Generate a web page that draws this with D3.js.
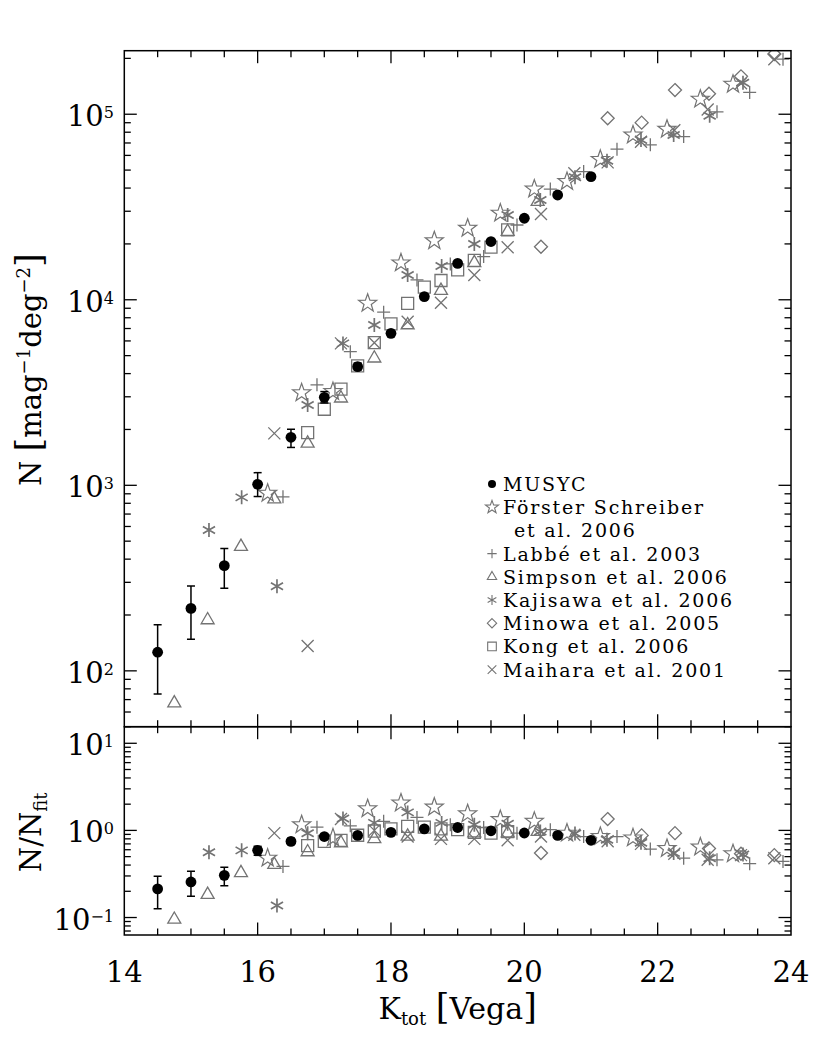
<!DOCTYPE html>
<html>
<head>
<meta charset="utf-8">
<script src="https://cdn.jsdelivr.net/npm/d3@7"></script>
<style>
body { margin: 0; background: #fff; }
svg { display: block; }
text { font-family: "DejaVu Serif", serif; fill: #000; }
</style>
</head>
<body>
<svg id="chart" width="830" height="1039"></svg>
<script>
// ---- data ----
var musycMag = [14.5, 15, 15.5, 16, 16.5, 17, 17.5, 18, 18.5, 19, 19.5, 20, 20.5, 21]
var musycN = [126, 217, 369, 1012, 1815, 2980, 4360, 6590, 10400, 15700, 20600, 27500, 36700, 46100]
var musycNLo = [75, 148, 279, 870, 1600, 2780, 4180, 6400, 10200, 15450, 20300, 27200, 36300, 45600]
var musycNHi = [177, 287, 457, 1170, 2005, 3200, 4560, 6800, 10650, 15950, 20900, 27800, 37100, 46600]
var musycRatio = [0.213, 0.256, 0.305, 0.59, 0.748, 0.85, 0.876, 0.95, 1.04, 1.08, 0.99, 0.934, 0.876, 0.77]
var musycRatioLo = [0.126, 0.175, 0.232, 0.517, 0.69, 0.8, 0.84, 0.92, 1.01, 1.05, 0.96, 0.91, 0.86, 0.75]
var musycRatioHi = [0.297, 0.339, 0.377, 0.656, 0.81, 0.9, 0.91, 0.98, 1.07, 1.11, 1.02, 0.96, 0.89, 0.79]

var fsMag = [16.15, 16.66, 17.13, 17.65, 18.15, 18.65, 19.15, 19.64, 20.15, 20.64, 21.14, 21.63, 22.14, 22.64, 23.13]
var fsN = [906, 3150, 3200, 9570, 15800, 20800, 24300, 29300, 39500, 43400, 57100, 77300, 83000, 120500, 145000]
var fsRatio = [0.48, 1.16, 0.82, 1.77, 2.06, 1.85, 1.55, 1.33, 1.27, 0.93, 0.85, 0.82, 0.62, 0.645, 0.54]

var labbeMag = [16.38, 16.89, 17.39, 17.89, 18.39, 18.89, 19.39, 19.89, 20.39, 20.89, 21.39, 21.89, 22.39, 22.89, 23.38, 23.88]
var labbeN = [867, 3480, 5250, 8570, 12800, 15600, 17100, 25300, 39500, 49100, 64800, 68400, 75800, 103000, 131000, 198000]
var labbeRatio = [0.386, 1.09, 1.13, 1.27, 1.41, 1.16, 1.08, 0.93, 1.02, 0.85, 0.85, 0.61, 0.48, 0.46, 0.415, 0.44]

var simpsonMag = [14.75, 15.25, 15.75, 16.25, 16.75, 17.25, 17.75, 18.25, 18.75, 19.25, 19.75, 20.2]
var simpsonN = [67, 188, 467, 843, 1683, 2946, 4840, 7310, 11200, 15800, 23300, 33800]
var simpsonRatio = [0.095, 0.183, 0.325, 0.404, 0.565, 0.717, 0.8, 0.853, 0.853, 0.93, 0.93, 0.97]

var kajisawaMag = [15.27, 15.76, 16.29, 16.75, 17.28, 17.75, 18.25, 18.76, 19.25, 19.75, 20.24, 20.76, 21.24, 21.75, 22.24, 22.78, 23.28]
var kajisawaN = [574, 861, 286, 2710, 5820, 7310, 13600, 15200, 20000, 28600, 34500, 45700, 56200, 72600, 77300, 98000, 148000]
var kajisawaRatio = [0.56, 0.59, 0.137, 0.93, 1.37, 1.22, 1.61, 1.22, 1.16, 1.19, 0.97, 0.92, 0.78, 0.72, 0.55, 0.48, 0.53]

var minowaMag = [20.25, 21.25, 21.76, 22.26, 22.77, 23.25, 23.75]
var minowaN = [19300, 95100, 90100, 135000, 129000, 160000, 211000]
var minowaRatio = [0.55, 1.35, 0.876, 0.93, 0.62, 0.54, 0.52]

var kongMag = [16.75, 17, 17.25, 17.5, 17.75, 18, 18.25, 18.5, 18.75, 19, 19.25, 19.5, 19.75]
var kongN = [1925, 2570, 3300, 4400, 5870, 7420, 9570, 11700, 12700, 14500, 16300, 19200, 23800]
var kongRatio = [0.67, 0.75, 0.77, 0.88, 0.98, 1.04, 1.11, 1.09, 1.04, 1.02, 0.95, 0.93, 0.97]

var maiharaMag = [16.25, 16.75, 17.25, 17.75, 18.25, 18.75, 19.25, 19.75, 20.25, 20.75, 21.25, 21.75, 22.25, 22.75, 23.25, 23.75]
var maiharaN = [1905, 136, 5820, 5870, 7620, 9630, 13600, 19200, 29000, 48100, 55000, 71000, 82000, 106000, 147000, 198000]
var maiharaRatio = [0.93, null, 1.35, 1.0, 0.85, 0.8, 0.8, 0.77, 0.85, 0.89, 0.75, 0.70, 0.54, 0.46, 0.52, 0.48]

var xTickLabels = [14, 16, 18, 20, 22, 24]
var topDecades = [2, 3, 4, 5]
var botDecades = [-1, 0, 1]

// ---- symbols (size = half width in px) ----
var symStar = { draw: function(c, r) {
  for (var i = 0; i < 10; i++) {
    var a = -Math.PI / 2 + i * Math.PI / 5, rr = i % 2 ? r * 0.4 : r
    if (i == 0) c.moveTo(rr * Math.cos(a), rr * Math.sin(a)); else c.lineTo(rr * Math.cos(a), rr * Math.sin(a))
  }
  c.closePath()
}}
var symPlus = { draw: function(c, r) { c.moveTo(-r, 0); c.lineTo(r, 0); c.moveTo(0, -r); c.lineTo(0, r) } }
var symX = { draw: function(c, r) { c.moveTo(-r, -r); c.lineTo(r, r); c.moveTo(-r, r); c.lineTo(r, -r) } }
var symAst = { draw: function(c, r) {
  var u = r * Math.sqrt(3) / 2, t = r / 2
  c.moveTo(0, -r); c.lineTo(0, r); c.moveTo(-u, -t); c.lineTo(u, t); c.moveTo(-u, t); c.lineTo(u, -t)
}}
var symTri = { draw: function(c, r) { c.moveTo(0, -r); c.lineTo(r * 0.866, r * 0.5); c.lineTo(-r * 0.866, r * 0.5); c.closePath() } }
var symDia = { draw: function(c, r) { c.moveTo(0, -r); c.lineTo(r, 0); c.lineTo(0, r); c.lineTo(-r, 0); c.closePath() } }
var symSq = { draw: function(c, r) { c.rect(-r, -r, 2 * r, 2 * r) } }
var symCircle = { draw: function(c, r) { c.moveTo(r, 0); c.arc(0, 0, r, 0, 2 * Math.PI) } }

var grey = "#737373"
var series = [
  { name: ["Förster Schreiber", "et al. 2006"], mag: fsMag, n: fsN, ratio: fsRatio, sym: symStar, size: 9.5, sw: 1.2 },
  { name: ["Labbé et al. 2003"], mag: labbeMag, n: labbeN, ratio: labbeRatio, sym: symPlus, size: 6.5, sw: 1.3 },
  { name: ["Simpson et al. 2006"], mag: simpsonMag, n: simpsonN, ratio: simpsonRatio, sym: symTri, size: 7.5, sw: 1.3 },
  { name: ["Kajisawa et al. 2006"], mag: kajisawaMag, n: kajisawaN, ratio: kajisawaRatio, sym: symAst, size: 7, sw: 1.7 },
  { name: ["Minowa et al. 2005"], mag: minowaMag, n: minowaN, ratio: minowaRatio, sym: symDia, size: 6.5, sw: 1.3 },
  { name: ["Kong et al. 2006"], mag: kongMag, n: kongN, ratio: kongRatio, sym: symSq, size: 6, sw: 1.3 },
  { name: ["Maihara et al. 2001"], mag: maiharaMag, n: maiharaN, ratio: maiharaRatio, sym: symX, size: 6, sw: 1.3 }
]

var svg = d3.select("#chart")
var x = d3.scaleLinear().domain([14, 24]).range([124.3, 791])
var yTop = d3.scaleLog().domain([50, 2.2e5]).range([726.7, 50.7])
var yBot = d3.scaleLog().domain([0.063, 15.5]).range([935, 726.7])

var defs = svg.append("defs")
defs.append("clipPath").attr("id", "clipTop").append("rect")
  .attr("x", x(14)).attr("y", yTop.range()[1]).attr("width", x(24) - x(14)).attr("height", yTop.range()[0] - yTop.range()[1])
defs.append("clipPath").attr("id", "clipBot").append("rect")
  .attr("x", x(14)).attr("y", yBot.range()[1]).attr("width", x(24) - x(14)).attr("height", yBot.range()[0] - yBot.range()[1])

var musycVals = { n: musycN, ratio: musycRatio }

function drawPanel(y, key, lo, hi, clip) {
  var g = svg.append("g").attr("clip-path", "url(#" + clip + ")")
  series.forEach(function(s) {
    var pts = s.mag.map(function(m, i) { return [m, s[key][i]] }).filter(function(d) { return d[1] != null })
    g.selectAll(null).data(pts).enter().append("path")
      .attr("transform", function(d) { return "translate(" + x(d[0]) + "," + y(d[1]) + ")" })
      .attr("d", d3.symbol().type(s.sym).size(s.size))
      .attr("fill", "none").attr("stroke", grey).attr("stroke-width", s.sw)
  })
  // MUSYC error bars + points
  var m = musycMag.map(function(v, i) { return { m: v, v: musycVals[key][i], lo: lo[i], hi: hi[i] } })
  var eb = g.selectAll(null).data(m).enter().append("g").attr("stroke", "#000").attr("stroke-width", 1.5)
  eb.append("line").attr("x1", function(d) { return x(d.m) }).attr("x2", function(d) { return x(d.m) })
    .attr("y1", function(d) { return y(d.lo) }).attr("y2", function(d) { return y(d.hi) })
  eb.append("line").attr("x1", function(d) { return x(d.m) - 4 }).attr("x2", function(d) { return x(d.m) + 4 })
    .attr("y1", function(d) { return y(d.lo) }).attr("y2", function(d) { return y(d.lo) })
  eb.append("line").attr("x1", function(d) { return x(d.m) - 4 }).attr("x2", function(d) { return x(d.m) + 4 })
    .attr("y1", function(d) { return y(d.hi) }).attr("y2", function(d) { return y(d.hi) })
  g.selectAll(null).data(m).enter().append("path")
    .attr("transform", function(d) { return "translate(" + x(d.m) + "," + y(d.v) + ")" })
    .attr("d", d3.symbol().type(symCircle).size(5.4)).attr("fill", "#000")
}
drawPanel(yTop, "n", musycNLo, musycNHi, "clipTop")
drawPanel(yBot, "ratio", musycRatioLo, musycRatioHi, "clipBot")

// ---- frames and ticks ----
var ax = svg.append("g").attr("stroke", "#000").attr("fill", "none")
function frame(y) {
  var y0 = y.range()[0], y1 = y.range()[1]
  ax.append("rect").attr("x", x(14)).attr("y", y1).attr("width", x(24) - x(14)).attr("height", y0 - y1).attr("stroke-width", 1.5)
  d3.range(14.5, 24, 0.5).forEach(function(t) {
    var len = (t % 2 == 0) ? 12.5 : 6.5
    ax.append("line").attr("x1", x(t)).attr("x2", x(t)).attr("y1", y1).attr("y2", y1 + len).attr("stroke-width", 1.3)
    ax.append("line").attr("x1", x(t)).attr("x2", x(t)).attr("y1", y0).attr("y2", y0 - len).attr("stroke-width", 1.3)
  })
  var d = y.domain(), ticks = []
  for (var e = Math.floor(Math.log10(d[0])); e <= Math.ceil(Math.log10(d[1])); e++) {
    for (var k = 1; k <= 9; k++) {
      var v = k * Math.pow(10, e)
      if (v >= d[0] && v <= d[1]) ticks.push({ v: v, major: k == 1 })
    }
  }
  ticks.forEach(function(t) {
    var len = t.major ? 12.5 : 6.5
    ax.append("line").attr("x1", x(14)).attr("x2", x(14) + len).attr("y1", y(t.v)).attr("y2", y(t.v)).attr("stroke-width", 1.3)
    ax.append("line").attr("x1", x(24)).attr("x2", x(24) - len).attr("y1", y(t.v)).attr("y2", y(t.v)).attr("stroke-width", 1.3)
  })
}
frame(yTop)
frame(yBot)

// ---- tick labels ----
function expLabel(y, e) {
  var t = svg.append("text").attr("x", 114).attr("y", y(Math.pow(10, e)) + 12).attr("text-anchor", "end").attr("font-size", 29)
  t.append("tspan").text("10")
  t.append("tspan").attr("font-size", 16).attr("dy", -8).text(e < 0 ? "\u2212" + (-e) : e)
}
topDecades.forEach(function(e) { expLabel(yTop, e) })
botDecades.forEach(function(e) { expLabel(yBot, e) })

svg.selectAll(null).data(xTickLabels).enter().append("text")
  .attr("x", function(d) { return x(d) }).attr("y", 982).attr("text-anchor", "middle").attr("font-size", 29)
  .text(function(d) { return d })

// axis titles
var xt = svg.append("text").attr("x", x(19)).attr("y", 1019).attr("text-anchor", "middle").attr("font-size", 30)
xt.append("tspan").text("K")
xt.append("tspan").attr("font-size", 18).attr("dy", 6).text("tot")
xt.append("tspan").attr("dy", -6).text(" ")
xt.append("tspan").attr("font-size", 35).text("[")
xt.append("tspan").text("Vega")
xt.append("tspan").attr("font-size", 35).text("]")

var yt = svg.append("text").attr("transform", "translate(41," + yTop(4200) + ") rotate(-90)").attr("text-anchor", "middle").attr("font-size", 29)
yt.append("tspan").text("N ")
yt.append("tspan").attr("font-size", 35).text("[")
yt.append("tspan").text("mag")
yt.append("tspan").attr("font-size", 18).attr("dy", -11).text("\u22121")
yt.append("tspan").attr("dy", 11).text("deg")
yt.append("tspan").attr("font-size", 18).attr("dy", -11).text("\u22122")
yt.append("tspan").attr("dy", 11).attr("font-size", 35).text("]")

var yb = svg.append("text").attr("transform", "translate(41," + yBot(0.95) + ") rotate(-90)").attr("text-anchor", "middle").attr("font-size", 29)
yb.append("tspan").text("N/N")
yb.append("tspan").attr("font-size", 18).attr("dy", 6).text("fit")

// ---- legend ----
var leg = svg.append("g")
var rowY = 484, rowH = 23.2
leg.append("path").attr("transform", "translate(492," + rowY + ")").attr("d", d3.symbol().type(symCircle).size(4)).attr("fill", "#000")
leg.append("text").attr("x", 503).attr("y", rowY + 7).attr("font-size", 19).attr("letter-spacing", 1.8).text("MUSYC")
var row = 1
series.forEach(function(s) {
  var yy = rowY + row * rowH
  leg.append("path").attr("transform", "translate(492," + yy + ")").attr("d", d3.symbol().type(s.sym).size(s.size * 0.72))
    .attr("fill", "none").attr("stroke", grey).attr("stroke-width", 1.1)
  s.name.forEach(function(line, j) {
    leg.append("text").attr("x", j ? 514 : 503).attr("y", yy + 7 + j * rowH).attr("font-size", 19).attr("letter-spacing", 1.8).text(line)
  })
  row += s.name.length
})
</script>
</body>
</html>
